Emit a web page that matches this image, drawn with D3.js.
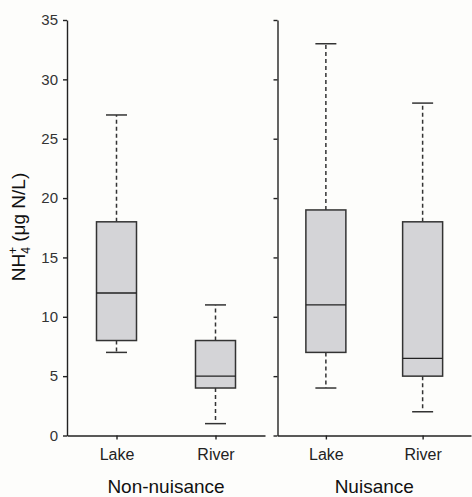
<!DOCTYPE html>
<html>
<head>
<meta charset="utf-8">
<script src="https://cdn.jsdelivr.net/npm/d3@7"></script>
<style>
  body { margin: 0; background: #fdfdfb; }
  svg { display: block; font-family: "Liberation Sans", Arial, sans-serif; }
</style>
</head>
<body>
<div id="chart"></div>
<script>
// data
var groups = ["Non-nuisance", "Nuisance"];
var sites = ["Lake", "River"];
var whiskerLow  = [[7, 1], [4, 2]];
var q1          = [[8, 4], [7, 5]];
var median      = [[12, 5], [11, 6.5]];
var q3          = [[18, 8], [19, 18]];
var whiskerHigh = [[27, 11], [33, 28]];
var yTicks = [0, 5, 10, 15, 20, 25, 30, 35];

function init()
{
    var w = 472;
    var h = 497;
    var top = 20, bottom = 435.5;
    var panels = [[67, 265], [277.5, 471]];
    var boxW = 40;
    var capW = 21;

    var svg = d3.select("#chart")
                .append("svg")
                .attr("width", w)
                .attr("height", h);

    var yScale = d3.scaleLinear()
                    .domain([0, 35])
                    .range([bottom, top]);

    groups.forEach(function(g, gi) {
        var x0 = panels[gi][0], x1 = panels[gi][1];
        var xScale = d3.scalePoint()
                        .domain(sites)
                        .range([x0, x1])
                        .padding(0.5);

        // y axis
        var yAxis = d3.axisLeft(yScale)
                      .tickValues(yTicks)
                      .tickSizeInner(4)
                      .tickSizeOuter(0)
                      .tickPadding(5);
        if (gi > 0) yAxis.tickFormat("");
        var ya = svg.append("g")
                    .attr("transform", "translate(" + x0 + ",0)")
                    .call(yAxis);
        ya.selectAll("text")
          .attr("font-size", "15px")
          .attr("fill", "#333")
          .attr("font-family", "Liberation Sans, Arial, sans-serif");

        // x axis
        var xAxis = d3.axisBottom(xScale)
                      .tickSizeInner(4)
                      .tickSizeOuter(0)
                      .tickPadding(9);
        var xa = svg.append("g")
                    .attr("transform", "translate(0," + bottom + ")")
                    .call(xAxis);
        xa.selectAll("text")
          .attr("font-size", "16px")
          .attr("fill", "#222")
          .attr("font-family", "Liberation Sans, Arial, sans-serif");

        svg.selectAll(".domain, .tick line")
           .attr("stroke", "#222")
           .attr("stroke-width", 1.4);

        // group label
        svg.append("text")
           .attr("x", (x0 + x1) / 2)
           .attr("y", 493)
           .attr("text-anchor", "middle")
           .attr("font-size", "19px")
           .attr("fill", "#111")
           .text(g);

        // boxes
        sites.forEach(function(s, si) {
            var cx = xScale(s);
            var box = svg.append("g");

            // whiskers
            box.append("line")
               .attr("x1", cx).attr("x2", cx)
               .attr("y1", yScale(q3[gi][si])).attr("y2", yScale(whiskerHigh[gi][si]))
               .attr("stroke", "#333").attr("stroke-width", 1.5)
               .attr("stroke-dasharray", "4,3");
            box.append("line")
               .attr("x1", cx).attr("x2", cx)
               .attr("y1", yScale(q1[gi][si])).attr("y2", yScale(whiskerLow[gi][si]))
               .attr("stroke", "#333").attr("stroke-width", 1.5)
               .attr("stroke-dasharray", "4,3");
            [whiskerHigh[gi][si], whiskerLow[gi][si]].forEach(function(v) {
                box.append("line")
                   .attr("x1", cx - capW / 2).attr("x2", cx + capW / 2)
                   .attr("y1", yScale(v)).attr("y2", yScale(v))
                   .attr("stroke", "#333").attr("stroke-width", 1.5);
            });

            box.append("rect")
               .attr("x", cx - boxW / 2)
               .attr("y", yScale(q3[gi][si]))
               .attr("width", boxW)
               .attr("height", yScale(q1[gi][si]) - yScale(q3[gi][si]))
               .attr("fill", "#d4d4d7")
               .attr("stroke", "#333")
               .attr("stroke-width", 1.5);

            box.append("line")
               .attr("x1", cx - boxW / 2).attr("x2", cx + boxW / 2)
               .attr("y1", yScale(median[gi][si])).attr("y2", yScale(median[gi][si]))
               .attr("stroke", "#222").attr("stroke-width", 1.4);
        });
    });

    // y axis title
    var title = svg.append("text")
                   .attr("transform", "translate(25," + 227 + ") rotate(-90)")
                   .attr("text-anchor", "middle")
                   .attr("font-size", "19px")
                   .attr("fill", "#111");
    title.append("tspan").text("NH");
    title.append("tspan").attr("font-size", "12px").attr("dy", 5).text("4");
    title.append("tspan").attr("font-size", "12px").attr("dx", -7).attr("dy", -13).text("+");
    title.append("tspan").attr("dy", 8).text(" (μg N/L)");
}
window.onload = init;
</script>
</body>
</html>
